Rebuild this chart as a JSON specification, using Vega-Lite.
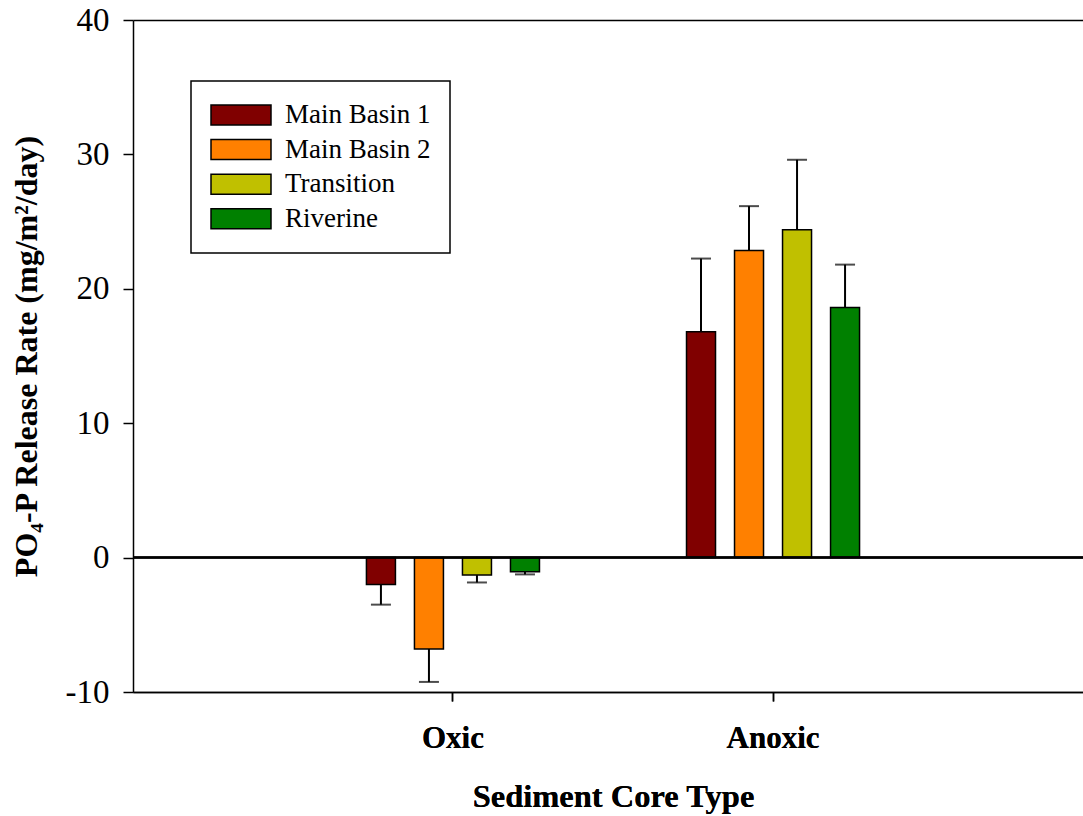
{
  "$schema": "https://vega.github.io/schema/vega-lite/v6.json",
  "width": 950,
  "height": 672,
  "autosize": {"type": "none"},
  "padding": {"left": 133, "top": 20, "right": 0, "bottom": 124},
  "background": "white",
  "config": {
    "font": "Liberation Serif",
    "view": {"stroke": null},
    "axis": {
      "domainColor": "black", "domainWidth": 1.5,
      "tickColor": "black", "tickWidth": 1.5,
      "labelColor": "black", "titleColor": "black",
      "labelFont": "Liberation Serif", "titleFont": "Liberation Serif",
      "grid": false
    }
  },
  "data": {
    "values": [
      {"core": "Oxic", "site": "Main Basin 1", "value": -2.0, "errEnd": -3.5},
      {"core": "Oxic", "site": "Main Basin 2", "value": -6.8, "errEnd": -9.25},
      {"core": "Oxic", "site": "Transition", "value": -1.3, "errEnd": -1.85},
      {"core": "Oxic", "site": "Riverine", "value": -1.05, "errEnd": -1.25},
      {"core": "Anoxic", "site": "Main Basin 1", "value": 16.8, "errEnd": 22.25},
      {"core": "Anoxic", "site": "Main Basin 2", "value": 22.85, "errEnd": 26.15},
      {"core": "Anoxic", "site": "Transition", "value": 24.4, "errEnd": 29.6},
      {"core": "Anoxic", "site": "Riverine", "value": 18.6, "errEnd": 21.8}
    ]
  },
  "layer": [
    {
      "encoding": {
        "x": {
          "field": "core", "type": "nominal", "sort": ["Oxic", "Anoxic"],
          "title": "Sediment Core Type",
          "scale": {"paddingInner": 0.4, "paddingOuter": 0.684, "align": 0.5114},
          "axis": {
            "tickSize": 9, "labelFontSize": 31, "labelFontWeight": "bold",
            "labelPadding": 22, "labelAngle": 0, "titleFontSize": 32.5,
            "titleFontWeight": "bold", "titlePadding": 27, "titleX": 480
          }
        },
        "xOffset": {
          "field": "site", "type": "nominal",
          "sort": ["Main Basin 1", "Main Basin 2", "Transition", "Riverine"],
          "scale": {"paddingInner": 0.396, "paddingOuter": 0.198}
        }
      },
      "layer": [
        {
          "mark": {"type": "bar", "stroke": "black", "strokeWidth": 1.5},
          "encoding": {
            "y": {
              "field": "value", "type": "quantitative",
              "title": "PO₄-P Release Rate (mg/m²/day)",
              "scale": {"domain": [-10, 40], "nice": false, "zero": false},
              "axis": {
                "values": [-10, 0, 10, 20, 30, 40], "labelExpr": "datum.value",
                "tickSize": 10, "labelPadding": 14, "labelFontSize": 33,
                "titleFontSize": 32, "titleFontWeight": "bold", "titlePadding": 22
              }
            },
            "color": {
              "field": "site", "type": "nominal",
              "scale": {
                "domain": ["Main Basin 1", "Main Basin 2", "Transition", "Riverine"],
                "range": ["#800000", "#FF8000", "#C0C000", "#008000"]
              },
              "legend": {
                "orient": "none", "legendX": 58, "legendY": 61, "title": null,
                "symbolType": "M-1,-0.3333H1V0.3333H-1Z", "symbolSize": 3600,
                "symbolStrokeColor": "black", "symbolStrokeWidth": 1.5, "symbolOpacity": 1,
                "labelFont": "Liberation Serif", "labelFontSize": 27, "labelColor": "black",
                "labelOffset": 13, "padding": 19, "strokeColor": "black", "fillColor": "white",
                "clipHeight": 30, "rowPadding": 4.6,
                "encode": {"legend": {"update": {"strokeWidth": {"value": 1.5}}}}
              }
            }
          }
        },
        {
          "mark": {"type": "rule", "color": "black", "strokeWidth": 2},
          "encoding": {
            "x": {
              "field": "core", "type": "nominal", "sort": ["Oxic", "Anoxic"],
              "axis": {"orient": "top", "labels": false, "ticks": false, "title": null, "domain": true}
            },
            "y": {
              "field": "value", "type": "quantitative",
              "title": "PO₄-P Release Rate (mg/m²/day)",
              "scale": {"domain": [-10, 40], "nice": false, "zero": false}
            },
            "y2": {"field": "errEnd"}
          }
        },
        {
          "mark": {"type": "tick", "orient": "horizontal", "size": 20, "thickness": 2, "color": "black"},
          "encoding": {
            "y": {
              "field": "errEnd", "type": "quantitative",
              "title": "PO₄-P Release Rate (mg/m²/day)",
              "scale": {"domain": [-10, 40], "nice": false, "zero": false}
            }
          }
        }
      ],
      "resolve": {"axis": {"x": "independent"}}
    },
    {
      "mark": {"type": "rule", "color": "black", "strokeWidth": 1.5},
      "encoding": {"y": {"datum": 0}}
    }
  ]
}
